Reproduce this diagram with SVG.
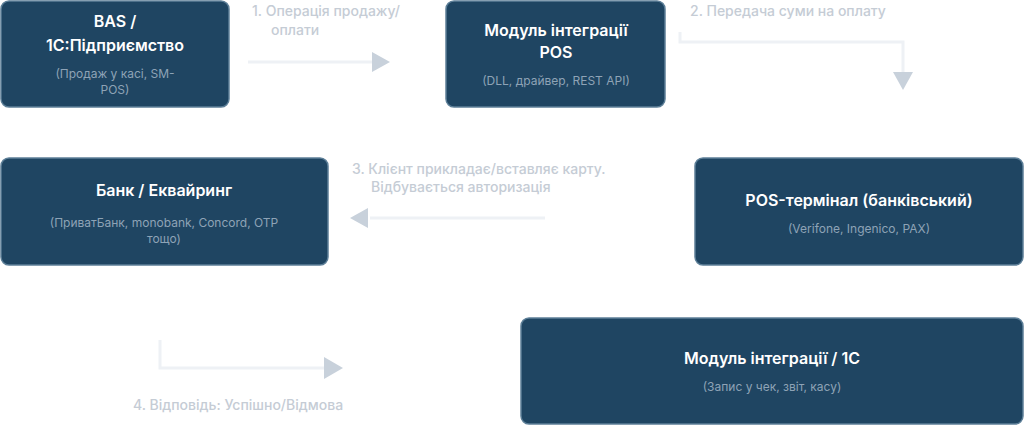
<svg xmlns="http://www.w3.org/2000/svg" width="1024" height="425" viewBox="0 0 1024 425">
<style>
.n{fill:#1f4562;stroke:#5d7f98;stroke-width:1.5}
.t{font-family:Inter,"Liberation Sans",sans-serif;font-size:16px;font-weight:600;fill:#fff;text-anchor:middle}
.s{font-family:Inter,"Liberation Sans",sans-serif;font-size:12px;fill:#8ea3b6;text-anchor:middle}
.l{font-family:Inter,"Liberation Sans",sans-serif;font-size:14px;font-weight:500;fill:#c5ccd5}
.c{fill:none;stroke:#eef1f5;stroke-width:3}
.a{fill:#c8d1db}
</style>
<rect width="1024" height="425" fill="#fff"/>
<g id="connectors">
<path class="c" d="M248 62H372"/><polygon class="a" points="372,52 390,62 372,72"/>
<path class="c" d="M680 32V42H903V72"/><polygon class="a" points="893,72 913,72 903,90"/>
<path class="c" d="M545 218H370"/><polygon class="a" points="368,208 350,218 368,228"/>
<path class="c" d="M160 340V368H324"/><polygon class="a" points="324,357 343,368 324,379"/>
<text class="l" x="252" y="16">1. Операція продажу/</text>
<text class="l" x="271" y="35">оплати</text>
<text class="l" x="690" y="16">2. Передача суми на оплату</text>
<text class="l" x="352" y="174">3. Клієнт прикладає/вставляє карту.</text>
<text class="l" x="371" y="192">Відбувається авторизація</text>
<text class="l" x="133" y="410">4. Відповідь: Успішно/Відмова</text>
</g>
<g id="n1"><rect class="n" x="1" y="1" width="228" height="106" rx="8"/>
<text class="t" x="115" y="27">BAS /</text><text class="t" x="115" y="51">1С:Підприємство</text>
<text class="s" x="115" y="78">(Продаж у касі, SM-</text><text class="s" x="115" y="94">POS)</text></g>
<g id="n2"><rect class="n" x="446" y="1" width="219" height="106" rx="8"/>
<text class="t" x="556" y="36">Модуль інтеграції</text><text class="t" x="556" y="58">POS</text>
<text class="s" x="556" y="85">(DLL, драйвер, REST API)</text></g>
<g id="n3"><rect class="n" x="1" y="158" width="327" height="107" rx="8"/>
<text class="t" x="164" y="196">Банк / Еквайринг</text>
<text class="s" x="164" y="227">(ПриватБанк, monobank, Concord, OTP</text><text class="s" x="164" y="243">тощо)</text></g>
<g id="n4"><rect class="n" x="695" y="158" width="328" height="107" rx="8"/>
<text class="t" x="859" y="206">POS-термінал (банківський)</text>
<text class="s" x="859" y="233">(Verifone, Ingenico, PAX)</text></g>
<g id="n5"><rect class="n" x="521" y="318" width="502" height="106" rx="8"/>
<text class="t" x="772" y="364">Модуль інтеграції / 1С</text>
<text class="s" x="772" y="391">(Запис у чек, звіт, касу)</text></g>
</svg>
